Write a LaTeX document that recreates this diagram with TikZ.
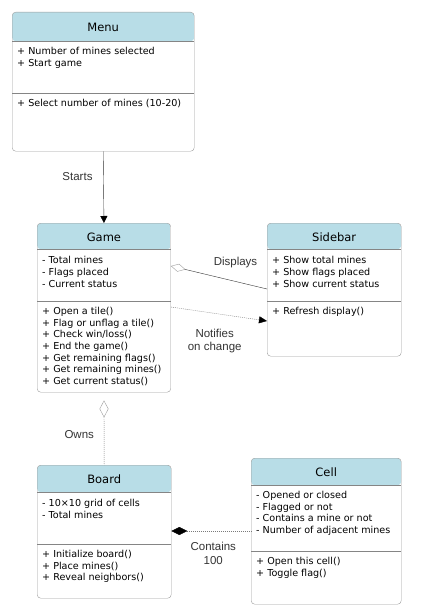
\documentclass[tikz,border=0pt]{standalone}
\usepackage{fontspec}
\setmainfont{DejaVu Sans}
\newfontfamily\labelfont{Liberation Sans}
\usepackage{xcolor}
\usepackage{tikz}
\usetikzlibrary{arrows.meta}

\definecolor{headblue}{HTML}{B8DDE7}
\definecolor{boxgray}{HTML}{9C9C9C}
\definecolor{sepgray}{HTML}{858585}
\definecolor{labelgray}{HTML}{333333}
\definecolor{dotgray}{HTML}{7A7A7A}

\begin{document}
\begin{tikzpicture}[x=1pt,y=-1pt,
classbox/.style={draw=boxgray, fill=white, rounded corners=3.5pt, anchor=north west, inner sep=0pt},
head/.style={path picture={\fill[headblue] (path picture bounding box.north west) rectangle ([yshift=-#1]path picture bounding box.north east);}},
title/.style={font=\fontsize{11.5}{14}\selectfont},
members/.style={anchor=north west, align=left, inner sep=0pt, text=black, font=\fontsize{9.6}{11.7}\selectfont},
sepline/.style={draw=sepgray, line width=0.6pt},
lbl/.style={text=labelgray, align=center, font=\labelfont\fontsize{11.5}{13.8}\selectfont},
dots/.style={draw=dotgray, dash pattern=on 1pt off 1pt}
]
\useasboundingbox (0,0) rectangle (445,615);

% The classes
\node[classbox, head=29pt, minimum width=182pt, minimum height=139pt] (menu) at (12,12) {};
\node[classbox, head=26pt, minimum width=133.5pt, minimum height=169pt] (game) at (37,223) {};
\node[classbox, head=26pt, minimum width=134pt, minimum height=133pt] (sidebar) at (267,223) {};
\node[classbox, head=27pt, minimum width=134pt, minimum height=133pt] (board) at (37,465) {};
\node[classbox, head=27pt, minimum width=150pt, minimum height=146pt] (cell) at (251,458) {};

% The compartments
\foreach \cls/\hd/\sep in {menu/29/81, game/26/78, sidebar/26/78, board/27/79, cell/27/93} {
  \draw[sepline] ([yshift=-\hd pt]\cls.north west) -- ([yshift=-\hd pt]\cls.north east);
  \draw[sepline] ([yshift=-\sep pt]\cls.north west) -- ([yshift=-\sep pt]\cls.north east);
}

% The titles
\node[title] (menu-title) at ([yshift=-15.3pt]menu.north) {Menu};
\node[title] (game-title) at ([yshift=-14.3pt]game.north) {Game};
\node[title] (sidebar-title) at ([yshift=-14.3pt]sidebar.north) {Sidebar};
\node[title] (board-title) at ([yshift=-14.3pt]board.north) {Board};
\node[title] (cell-title) at ([yshift=-14.3pt]cell.north) {Cell};

% The members
\node[members] (menu-attr) at ([xshift=5pt,yshift=-35pt]menu.north west) {+ Number of mines selected\\+ Start game};
\node[members] (menu-ops) at ([xshift=5pt,yshift=-87pt]menu.north west) {+ Select number of mines (10-20)};
\node[members] (game-attr) at ([xshift=5pt,yshift=-33.5pt]game.north west) {- Total mines\\- Flags placed\\- Current status};
\node[members] (game-ops) at ([xshift=5pt,yshift=-84pt]game.north west) {+ Open a tile()\\+ Flag or unflag a tile()\\+ Check win/loss()\\+ End the game()\\+ Get remaining flags()\\+ Get remaining mines()\\+ Get current status()};
\node[members] (sidebar-attr) at ([xshift=5pt,yshift=-33.5pt]sidebar.north west) {+ Show total mines\\+ Show flags placed\\+ Show current status};
\node[members] (sidebar-ops) at ([xshift=5pt,yshift=-84pt]sidebar.north west) {+ Refresh display()};
\node[members] (board-attr) at ([xshift=5pt,yshift=-34pt]board.north west) {- 10×10 grid of cells\\- Total mines};
\node[members] (board-ops) at ([xshift=5pt,yshift=-85pt]board.north west) {+ Initialize board()\\+ Place mines()\\+ Reveal neighbors()};
\node[members] (cell-attr) at ([xshift=5pt,yshift=-33pt]cell.north west) {- Opened or closed\\- Flagged or not\\- Contains a mine or not\\- Number of adjacent mines};
\node[members] (cell-ops) at ([xshift=5pt,yshift=-99pt]cell.north west) {+ Open this cell()\\+ Toggle flag()};

% The connectors
\draw[draw=labelgray, -{Triangle[length=7pt,width=7pt,color=black]}] (menu.south) -- (game.north);
\draw[draw=labelgray, {Diamond[open,length=15pt,width=8pt,color=boxgray]}-] ([yshift=-43pt]game.north east) -- ([yshift=-66pt]sidebar.north west);
\draw[dots, -{Triangle[length=8pt,width=7pt,color=black]}] ([yshift=-84pt]game.north east) -- ([yshift=-98pt]sidebar.north west);
\draw[dots, {Diamond[open,length=17pt,width=9pt,color=boxgray]}-, shorten <=8pt] (game.south) -- (board.north);
\draw[dots, {Diamond[length=16pt,width=8pt,color=black]}-] ([yshift=-66pt]board.north east) -- ([yshift=-73pt]cell.north west);

% The labels
\node[lbl] (starts) at (77.5,176.7) {Starts};
\node[lbl] (displays) at (235.5,262.7) {Displays};
\node[lbl] (notifies) at (214.7,341) {Notifies\\on change};
\node[lbl] (owns) at (79.2,434.3) {Owns};
\node[lbl] (contains) at (213.3,553.7) {Contains\\100};
\end{tikzpicture}
\end{document}
